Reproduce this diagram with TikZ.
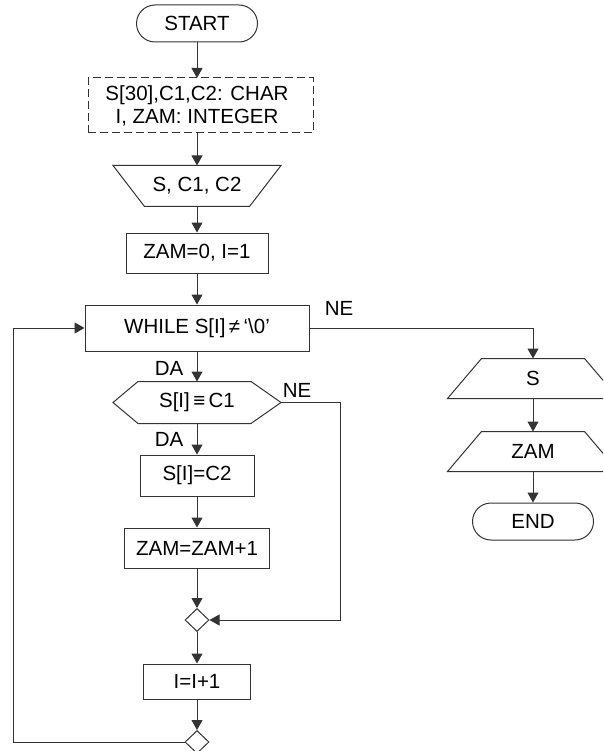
\documentclass[tikz,border=0pt]{standalone}
\usepackage{fontspec}
\setmainfont{Liberation Sans}
\usetikzlibrary{arrows.meta,calc,shapes.geometric}
\begin{document}
\begin{tikzpicture}[x=1pt,y=-1pt,line width=1pt,
  every node/.style={font=\fontsize{20.5}{23}\selectfont,inner sep=0pt},
  lc/.style={draw=black!80},
  proc/.style={lc,draw,rectangle},
  term/.style={lc,draw,rectangle,rounded corners=18.5pt,minimum width=121pt,minimum height=37pt},
  declbox/.style={lc,draw,rectangle,dash pattern=on 8pt off 4pt},
  shapebox/.style={rectangle},
  merger/.style={lc,draw,diamond,minimum width=24pt,minimum height=23pt},
  arr/.style={lc,-{Triangle[length=10pt,width=11pt]}},
  ln/.style={lc}]
\useasboundingbox (0,0) rectangle (603,751);
\clip (0,0) rectangle (603,751);

% nodes
\node[term] (start) at (197,23.5) {START};
\node[declbox,minimum width=225pt,minimum height=55pt] (decl) at (200.5,105.5) {};
\node[align=center] (decltext) at (197,105.5) {S[30],C1,C2: CHAR\\I, ZAM: INTEGER};
\node[shapebox,minimum width=167pt,minimum height=40pt] (in) at (197,186) {S, C1, C2};
\node[proc,minimum width=142pt,minimum height=40pt] (init) at (197,253) {ZAM=0, I=1};
\node[proc,minimum width=224pt,minimum height=46pt] (while) at (197,328) {WHILE S[I]\,≠\,‘\textbackslash0’};
\node[shapebox,minimum width=167pt,minimum height=41pt] (hex) at (197,402.5) {S[I]\,≡\,C1};
\node[proc,minimum width=114pt,minimum height=41pt] (assign) at (197,475.5) {S[I]=C2};
\node[proc,minimum width=145pt,minimum height=40pt] (inc) at (197,548) {ZAM=ZAM+1};
\node[merger] (merge) at (197,620) {};
\node[proc,minimum width=107pt,minimum height=35pt] (iinc) at (197,681.5) {I=I+1};
\node[merger] (loop) at (197,742) {};
\node[shapebox,minimum width=170pt,minimum height=39pt] (outS) at (533,378.5) {S};
\node[shapebox,minimum width=170pt,minimum height=39pt] (outZ) at (533,451.5) {ZAM};
\node[term] (end) at (533,521.5) {END};

% shape outlines
\draw[ln] (in.north west) -- (in.north east) -- ($(in.south east)+(-31.5,0)$) -- ($(in.south west)+(31.5,0)$) -- cycle;
\draw[ln] (hex.west) -- ($(hex.north west)+(25,0)$) -- ($(hex.north east)+(-30,0)$) -- (hex.east) -- ($(hex.south east)+(-30,0)$) -- ($(hex.south west)+(25,0)$) -- cycle;
\draw[ln] ($(outS.north west)+(34,0)$) -- ($(outS.north east)+(-34,0)$) -- (outS.south east) -- (outS.south west) -- cycle;
\draw[ln] ($(outZ.north west)+(34,0)$) -- ($(outZ.north east)+(-34,0)$) -- (outZ.south east) -- (outZ.south west) -- cycle;

% labels
\node (ne1) at (339,308) {NE};
\node (da1) at (169,368) {DA};
\node (ne2) at (297,390) {NE};
\node (da2) at (169,439) {DA};

% connectors
\coordinate (dtop) at (197,78);
\coordinate (dbot) at (197,133);
\draw[arr] (start) -- (dtop);
\draw[arr] (dbot) -- (in);
\draw[arr] (in) -- (init);
\draw[arr] (init) -- (while);
\draw[arr] (while) -- (hex);
\draw[arr] (hex) -- (assign);
\draw[arr] (assign) -- (inc);
\draw[arr] (inc) -- (merge);
\draw[arr] (merge) -- (iinc);
\draw[arr] (iinc) -- (loop);
\draw[arr] (while.east) -| (outS.north);
\draw[arr] (outS) -- (outZ);
\draw[arr] (outZ) -- (end);
\coordinate (neturn) at (340,402.5);
\draw[arr] (hex.east) -- (neturn) |- (merge.east);
\coordinate (loopcorner) at (13,742);
\draw[arr] (loop.west) -- (loopcorner) |- (while.west);
\end{tikzpicture}
\end{document}
